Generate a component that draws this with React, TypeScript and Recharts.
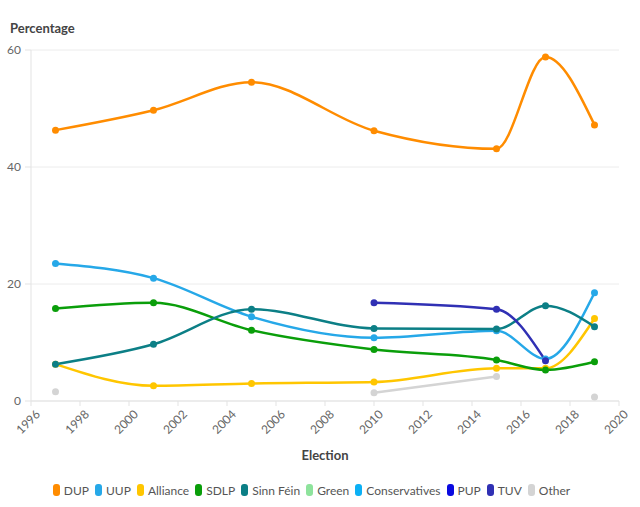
import React from 'react';
import { LineChart, Line, XAxis, YAxis, CartesianGrid, Legend, Label } from 'recharts';

const years = [1997, 2001, 2005, 2010, 2015, 2017, 2019];
const dup = [46.3, 49.7, 54.5, 46.2, 43.1, 58.8, 47.2];
const uup = [23.5, 21.0, 14.4, 10.8, 12.0, 7.2, 18.5];
const alliance = [6.3, 2.6, 3.0, 3.25, 5.6, 5.6, 14.1];
const sdlp = [15.8, 16.8, 12.1, 8.8, 7.0, 5.3, 6.7];
const sinnFein = [6.3, 9.7, 15.7, 12.4, 12.3, 16.3, 12.7];
const green: (number | null)[] = [null, null, null, null, null, null, null];
const conservatives: (number | null)[] = [null, null, null, null, null, null, null];
const pup: (number | null)[] = [null, null, null, null, null, null, null];
const tuv: (number | null)[] = [null, null, null, 16.8, 15.7, 6.9, null];
const other: (number | null)[] = [1.6, null, null, 1.4, 4.2, null, 0.7];

const xTicks = [1996, 1998, 2000, 2002, 2004, 2006, 2008, 2010, 2012, 2014, 2016, 2018, 2020];
const yTicks = [0, 20, 40, 60];

const seriesDefs = [
  { key: 'DUP', values: dup, color: '#FF8C00' },
  { key: 'UUP', values: uup, color: '#26A8E8' },
  { key: 'Alliance', values: alliance, color: '#FFC600' },
  { key: 'SDLP', values: sdlp, color: '#0A9E0A' },
  { key: 'Sinn Féin', values: sinnFein, color: '#0C7F86' },
  { key: 'Green', values: green, color: '#8EE39C' },
  { key: 'Conservatives', values: conservatives, color: '#0BB0F5' },
  { key: 'PUP', values: pup, color: '#0A0AE0' },
  { key: 'TUV', values: tuv, color: '#3030B4' },
  { key: 'Other', values: other, color: '#D4D4D4' },
];

const data = years.map((y, i) => {
  const row: Record<string, number | null> = { year: y };
  seriesDefs.forEach((s) => {
    row[s.key] = s.values[i];
  });
  return row;
});

const FONT = 'Lato, "Open Sans", sans-serif';

const XTick = (props: any) => {
  const { x, y, payload } = props;
  return (
    <g transform={`translate(${x},${y})`}>
      <text
        x={0}
        y={0}
        dx={2}
        dy={12}
        textAnchor="end"
        transform="rotate(-45)"
        fill="#666"
        fontSize={12}
        fontFamily={FONT}
      >
        {payload.value}
      </text>
    </g>
  );
};

const LegendContent = () => (
  <div
    style={{
      display: 'flex',
      justifyContent: 'center',
      alignItems: 'center',
      fontFamily: FONT,
      fontSize: 12,
      color: '#555',
      height: 20,
      paddingLeft: 10,
    }}
  >
    {seriesDefs.map((s) => (
      <div key={s.key} style={{ display: 'flex', alignItems: 'center', marginRight: 6 }}>
        <span
          style={{
            display: 'inline-block',
            width: 7,
            height: 12,
            borderRadius: 3,
            background: s.color,
            marginRight: 4,
          }}
        />
        <span>{s.key}</span>
      </div>
    ))}
  </div>
);

export default function App() {
  return (
    <div style={{ position: 'absolute', left: 0, top: 0, width: 640, height: 507, background: '#fff' }}>
      <LineChart
        width={640}
        height={507}
        data={data}
        margin={{ top: 50, right: 21, bottom: 7, left: 0 }}
      >
        <CartesianGrid vertical={false} stroke="#ececec" />
        <XAxis
          dataKey="year"
          type="number"
          domain={[1996, 2020]}
          ticks={xTicks}
          interval={0}
          height={79}
          tick={<XTick />}
          tickSize={5}
          stroke="#e3e3e3"
          tickLine={{ stroke: '#e3e3e3' }}
        >
          <Label
            value="Election"
            position="insideBottom"
            offset={20}
            style={{ fontFamily: FONT, fontSize: 13, fontWeight: 700, fill: '#444' }}
          />
        </XAxis>
        <YAxis
          type="number"
          domain={[0, 60]}
          ticks={yTicks}
          width={31}
          tickSize={6}
          tickMargin={4}
          stroke="#e3e3e3"
          tickLine={{ stroke: '#e3e3e3' }}
          tick={{ fill: '#666', fontSize: 12, fontFamily: FONT }}
          label={{
            content: () => (
              <text x={10} y={33} fill="#444" fontSize={13} fontWeight={700} fontFamily={FONT}>
                Percentage
              </text>
            ),
          }}
        />
        <Legend verticalAlign="bottom" height={20} content={<LegendContent />} />
        {seriesDefs.map((s) => (
          <Line
            key={s.key}
            type="monotone"
            dataKey={s.key}
            stroke={s.color}
            strokeWidth={2.5}
            dot={{ r: 3.5, fill: s.color, stroke: s.color, strokeWidth: 0 }}
            activeDot={false}
            connectNulls={false}
            isAnimationActive={false}
          />
        ))}
      </LineChart>
    </div>
  );
}
